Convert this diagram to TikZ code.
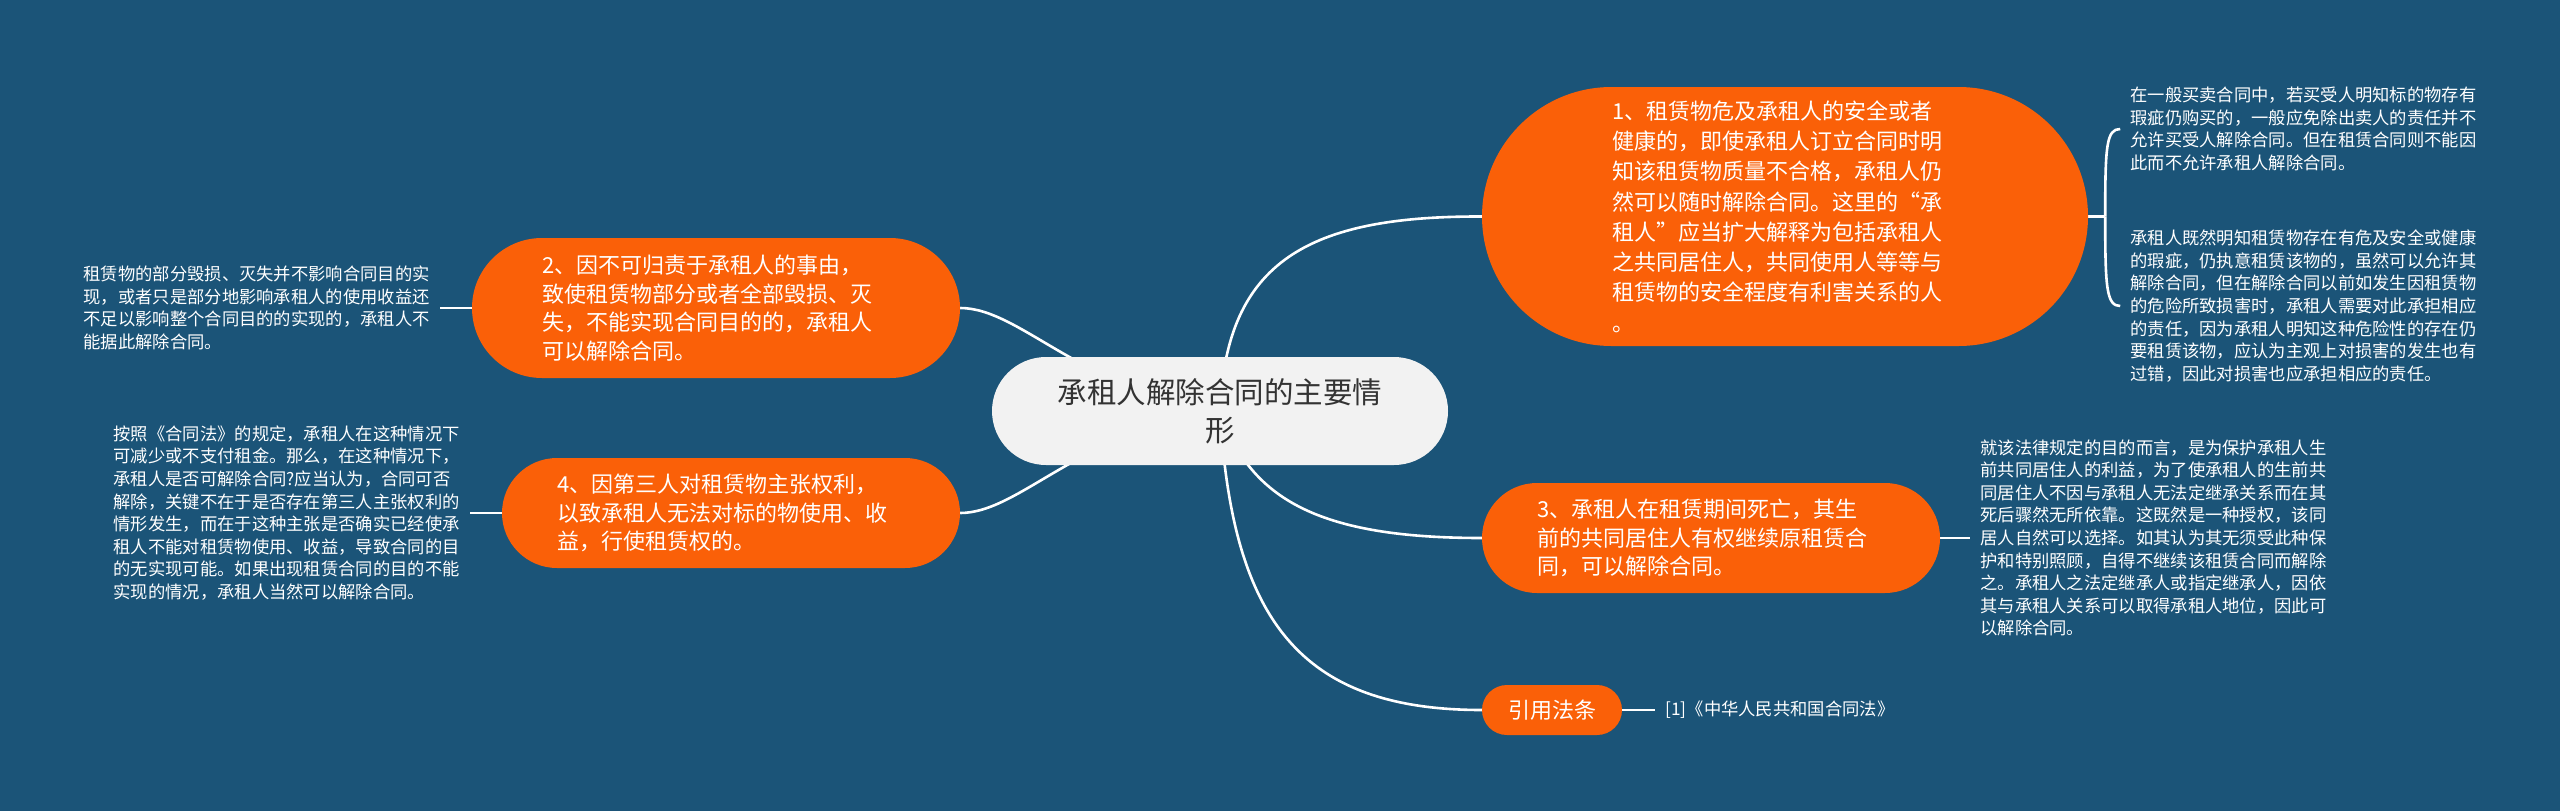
\documentclass[tikz,border=0pt]{standalone}
\usepackage{fontspec}
\setmainfont{Noto Sans CJK SC}
\usetikzlibrary{backgrounds,positioning}
\definecolor{mapbg}{RGB}{27,84,120}
\definecolor{maporange}{RGB}{250,96,8}
\definecolor{mapgray}{RGB}{242,242,242}
\definecolor{maptext}{RGB}{51,51,51}

\begin{document}
\begin{tikzpicture}[x=1pt,y=-1pt,
    link/.style={draw=white,line width=2.6pt},
    pill/.style 2 args={rectangle,fill=maporange,text=white,minimum width=#1,minimum height=#2,rounded corners=#2/2,inner sep=0pt},
    branch/.style={align=left,text width=348pt,font=\fontsize{22pt}{28.5pt}\selectfont},
    detail/.style={text=white,align=left,inner xsep=10pt,inner ysep=2pt,font=\fontsize{17.3pt}{22.6pt}\selectfont}]
  \useasboundingbox (0,0) rectangle (2560,811);
  % centre and main branches
  \node[pill={456pt}{108pt},fill=mapgray,text=maptext,align=center,font=\fontsize{29.5pt}{38pt}\selectfont] (c) at (1220,411) {承租人解除合同的主要情\\形};
  \node[pill={606pt}{259pt},branch,text width=346pt,font=\fontsize{22pt}{30.3pt}\selectfont] (n1) at (1785,216.5) {1、租赁物危及承租人的安全或者\\健康的，即使承租人订立合同时明\\知该租赁物质量不合格，承租人仍\\然可以随时解除合同。这里的“承\\租人”应当扩大解释为包括承租人\\之共同居住人，共同使用人等等与\\租赁物的安全程度有利害关系的人\\。};
  \node[pill={488pt}{140pt},branch] (n2) at (716,308) {2、因不可归责于承租人的事由，\\致使租赁物部分或者全部毁损、灭\\失，不能实现合同目的的，承租人\\可以解除合同。};
  \node[pill={458pt}{110pt},branch] (n3) at (1711,538) {3、承租人在租赁期间死亡，其生\\前的共同居住人有权继续原租赁合\\同，可以解除合同。};
  \node[pill={458pt}{110pt},branch] (n4) at (731,513) {4、因第三人对租赁物主张权利，\\以致承租人无法对标的物使用、收\\益，行使租赁权的。};
  \node[pill={140pt}{50pt},font=\fontsize{22pt}{28pt}\selectfont] (n5) at (1552,710) {引用法条};
  % detail texts
  \node[detail,right=32pt of n1.east,anchor=west,yshift=87.5pt] (d1a) {在一般买卖合同中，若买受人明知标的物存有\\瑕疵仍购买的，一般应免除出卖人的责任并不\\允许买受人解除合同。但在租赁合同则不能因\\此而不允许承租人解除合同。};
  \node[detail,right=32pt of n1.east,anchor=west,yshift=-89.5pt] (d1b) {承租人既然明知租赁物存在有危及安全或健康\\的瑕疵，仍执意租赁该物的，虽然可以允许其\\解除合同，但在解除合同以前如发生因租赁物\\的危险所致损害时，承租人需要对此承担相应\\的责任，因为承租人明知这种危险性的存在仍\\要租赁该物，应认为主观上对损害的发生也有\\过错，因此对损害也应承担相应的责任。};
  \node[detail,left=32pt of n2] (d2) {租赁物的部分毁损、灭失并不影响合同目的实\\现，或者只是部分地影响承租人的使用收益还\\不足以影响整个合同目的的实现的，承租人不\\能据此解除合同。};
  \node[detail,right=30pt of n3] (d3) {就该法律规定的目的而言，是为保护承租人生\\前共同居住人的利益，为了使承租人的生前共\\同居住人不因与承租人无法定继承关系而在其\\死后骤然无所依靠。这既然是一种授权，该同\\居人自然可以选择。如其认为其无须受此种保\\护和特别照顾，自得不继续该租赁合同而解除\\之。承租人之法定继承人或指定继承人，因依\\其与承租人关系可以取得承租人地位，因此可\\以解除合同。};
  \node[detail,left=32pt of n4] (d4) {按照《合同法》的规定，承租人在这种情况下\\可减少或不支付租金。那么，在这种情况下，\\承租人是否可解除合同?应当认为，合同可否\\解除，关键不在于是否存在第三人主张权利的\\情形发生，而在于这种主张是否确实已经使承\\租人不能对租赁物使用、收益，导致合同的目\\的无实现可能。如果出现租赁合同的目的不能\\实现的情况，承租人当然可以解除合同。};
  \node[detail,right=33pt of n5] (d5) {[1]《中华人民共和国合同法》};
  % connectors behind the nodes
  \begin{scope}[on background layer]
    \fill[mapbg] (0,0) rectangle (2560,811);
    \draw[link] (c.center) .. controls (1226,260) and (1310,216) .. (n1.west);
    \draw[link] (c.center) .. controls (1080,390) and (1020,308) .. (n2.east);
    \draw[link] (c.center) .. controls (1250,500) and (1320,538) .. (n3.west);
    \draw[link] (c.center) .. controls (1080,430) and (1020,513) .. (n4.east);
    \draw[link] (c.center) .. controls (1232,620) and (1300,710) .. (n5.west);
    \draw[link] (n1.east) -- ++(17,0) coordinate (b1);
    \draw[link] (b1) .. controls +(0,-70) and +(-14,0) .. (d1a.west);
    \draw[link] (b1) .. controls +(0,70) and +(-14,0) .. (d1b.west);
    \draw[link] (n2.west) -- (d2.east);
    \draw[link] (n3.east) -- (d3.west);
    \draw[link] (n4.west) -- (d4.east);
    \draw[link] (n5.east) -- (d5.west);
  \end{scope}
\end{tikzpicture}
\end{document}
